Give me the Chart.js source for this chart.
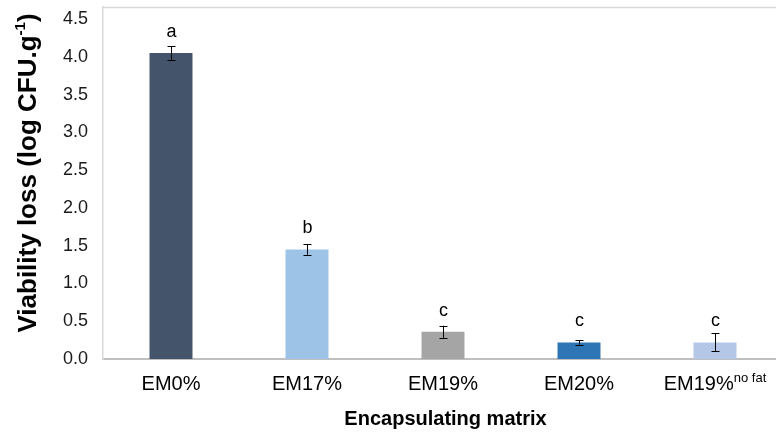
<!DOCTYPE html>
<html>
<head>
<meta charset="utf-8">
<script src="https://cdn.jsdelivr.net/npm/chart.js@4/dist/chart.umd.min.js"></script>
<style>
	html, body { margin: 0; padding: 0; background: #fff; overflow: hidden; }
	#wrap { width: 776px; height: 434px; overflow: hidden; }
	#wrap div { width: 783px; height: 434px; position: relative; }
</style>
</head>
<body>
<div id="wrap"><div><canvas id="myChart"></canvas></div></div>
<script>
// data
const categories = ['EM0%', 'EM17%', 'EM19%', 'EM20%', 'EM19%'];
const labelSup = ['', '', '', '', 'no fat'];
const viabilityLoss = [4.05, 1.45, 0.36, 0.22, 0.22];
const stdErr = [0.09, 0.07, 0.08, 0.03, 0.12];
const groupLetters = ['a', 'b', 'c', 'c', 'c'];
const yTicks = [0, 0.5, 1, 1.5, 2, 2.5, 3, 3.5, 4, 4.5];

const FONT = '"Liberation Sans", Arial, sans-serif';

const extras = {
	id: 'extras',
	afterDatasetsDraw(chart) {
		const ctx = chart.ctx;
		const x = chart.scales.x, y = chart.scales.y;
		const area = chart.chartArea;
		ctx.save();

		// light frame line along the top
		ctx.strokeStyle = '#d9d9d9';
		ctx.lineWidth = 1.5;
		ctx.beginPath();
		ctx.moveTo(area.left, area.top + 0.5);
		ctx.lineTo(area.right, area.top + 0.5);
		ctx.stroke();

		// error bars + letters
		ctx.strokeStyle = '#000';
		ctx.lineWidth = 1;
		viabilityLoss.forEach((v, i) => {
			const cx = Math.round(x.getPixelForValue(i)) + 0.5;
			const yt = y.getPixelForValue(v + stdErr[i]);
			const yb = y.getPixelForValue(v - stdErr[i]);
			ctx.beginPath();
			ctx.moveTo(cx, yt); ctx.lineTo(cx, yb);
			ctx.moveTo(cx - 4, Math.round(yt) + 0.5); ctx.lineTo(cx + 4, Math.round(yt) + 0.5);
			ctx.moveTo(cx - 4, Math.round(yb) + 0.5); ctx.lineTo(cx + 4, Math.round(yb) + 0.5);
			ctx.stroke();

			ctx.fillStyle = '#000';
			ctx.font = '18px ' + FONT;
			ctx.textAlign = 'center';
			ctx.textBaseline = 'middle';
			ctx.fillText(groupLetters[i], cx, y.getPixelForValue(v) - 21);
		});

		// category labels (one has a superscript)
		ctx.fillStyle = '#000';
		ctx.textBaseline = 'alphabetic';
		ctx.textAlign = 'left';
		categories.forEach((c, i) => {
			const cx = x.getPixelForValue(i);
			ctx.font = '20px ' + FONT;
			const w1 = ctx.measureText(c).width;
			ctx.font = '13px ' + FONT;
			const w2 = labelSup[i] ? ctx.measureText(labelSup[i]).width : 0;
			const start = cx - (w1 + w2) / 2;
			ctx.font = '20px ' + FONT;
			ctx.fillText(c, start, 390);
			if (labelSup[i]) {
				ctx.font = '13px ' + FONT;
				ctx.fillText(labelSup[i], start + w1, 382);
			}
		});

		// x title
		ctx.font = 'bold 20px ' + FONT;
		ctx.textAlign = 'center';
		ctx.fillText('Encapsulating matrix', (area.left + 776) / 2 + 6, 425);

		// y title with superscript
		ctx.translate(36, 173);
		ctx.rotate(-Math.PI / 2);
		const main = 'Viability loss (log CFU.g';
		ctx.font = 'bold 26px ' + FONT;
		const m1 = ctx.measureText(main).width;
		ctx.font = 'bold 15px ' + FONT;
		const m2 = ctx.measureText('-1').width;
		ctx.font = 'bold 26px ' + FONT;
		const m3 = ctx.measureText(')').width;
		let sx = -(m1 + m2 + m3) / 2;
		ctx.textAlign = 'left';
		ctx.fillText(main, sx, 0);
		ctx.font = 'bold 15px ' + FONT;
		ctx.fillText('-1', sx + m1, -11);
		ctx.font = 'bold 26px ' + FONT;
		ctx.fillText(')', sx + m1 + m2, 0);
		ctx.restore();
	}
};

new Chart(document.getElementById('myChart'), {
	type: 'bar',
	data: {
		labels: categories,
		datasets: [{
			data: viabilityLoss,
			backgroundColor: ['#44546a', '#9dc3e6', '#a5a5a5', '#2e75b6', '#b4c7e7'],
			borderWidth: 0,
			barPercentage: 0.316,
			categoryPercentage: 1
		}]
	},
	options: {
		responsive: true,
		maintainAspectRatio: false,
		animation: false,
		layout: { padding: { top: 7, left: 0, right: 0, bottom: 0 } },
		plugins: { legend: { display: false }, tooltip: { enabled: false } },
		scales: {
			x: {
				grid: { display: false },
				border: { color: '#bfbfbf', width: 2 },
				ticks: { display: false },
				afterFit: (s) => { s.height = 75; s.paddingLeft = 0; s.paddingRight = 0; }
			},
			y: {
				min: 0,
				max: 4.66,
				grid: { display: false, drawTicks: false },
				border: { color: '#d9d9d9', width: 1.5 },
				afterBuildTicks: (s) => { s.ticks = yTicks.map(v => ({ value: v })); },
				afterFit: (s) => { s.width = 103; s.paddingTop = 0; s.paddingBottom = 0; },
				ticks: {
					color: '#1a1a1a',
					padding: 15,
					font: { family: FONT, size: 18 },
					callback: (v) => v.toFixed(1)
				}
			}
		}
	},
	plugins: [extras]
});
</script>
</body>
</html>
